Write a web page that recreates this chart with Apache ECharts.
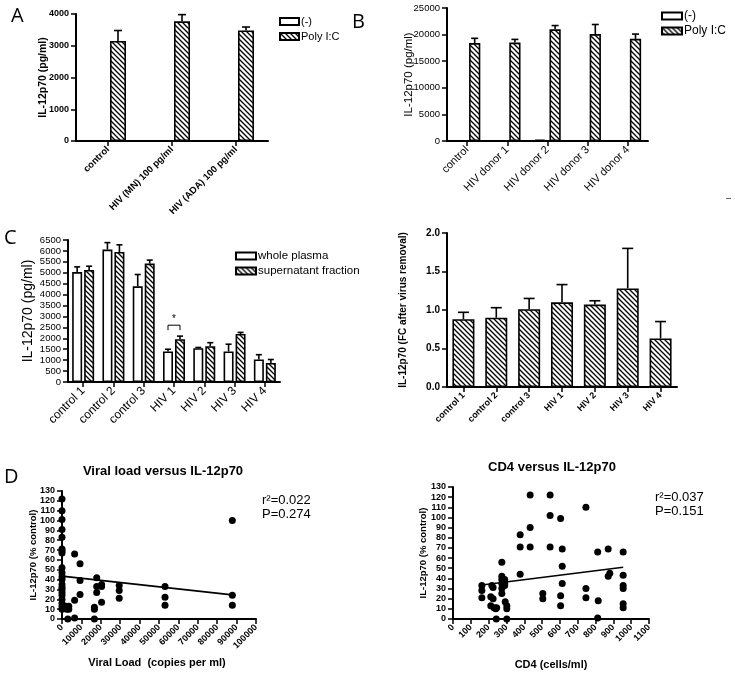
<!DOCTYPE html>
<html><head><meta charset="utf-8">
<script src="https://cdn.jsdelivr.net/npm/echarts@6/dist/echarts.min.js"></script>
<style>html,body{margin:0;padding:0;background:#fff}#c{width:735px;height:676px}</style>
</head><body><div id="c"></div>
<script>
// ---------- DATA ----------
// Panel A
const catsA = ['control', 'HIV (MN) 100 pg/ml', 'HIV (ADA) 100 pg/ml'];
const aNeg = [10, 10, 10];
const aPoly = [3150, 3770, 3480];
const aPolyTop = [3480, 3980, 3590];
// Panel B
const catsB = ['control', 'HIV donor 1', 'HIV donor 2', 'HIV donor 3', 'HIV donor 4'];
const bNeg = [30, 30, 300, 30, 100];
const bPoly = [18400, 18500, 21000, 20100, 19200];
const bPolyTop = [19300, 19100, 21700, 21900, 20100];
// Panel C
const catsC = ['control 1', 'control 2', 'control 3', 'HIV 1', 'HIV 2', 'HIV 3', 'HIV 4'];
const cWhole = [5030, 6060, 4380, 1400, 1550, 1400, 1030];
const cWholeTop = [5270, 6380, 4920, 1500, 1580, 1730, 1250];
const cSup = [5130, 5950, 5420, 1960, 1640, 2200, 870];
const cSupTop = [5300, 6280, 5580, 2100, 1800, 2270, 1030];
const cSignif = [[3, 2600]];
// Panel C right (fold change)
const fcVal = [0.88, 0.90, 1.01, 1.10, 1.07, 1.28, 0.63];
const fcTop = [0.97, 1.03, 1.15, 1.33, 1.12, 1.80, 0.85];
// Panel D left: viral load vs IL-12p70
const vlX = [0,0,0,0,0,0,0,0,0,0,0,0,0,0,0,0,0,0,0,0,0,
  2000,3500,2500,3500,3000, 6500,6500,6500, 9300,9300,9300,
  16700,16700,16700, 17900,17900,17900, 20400,20400,20400,
  29500,29500,29500, 53100,53100,53100, 87800,87800,87800];
const vlY = [122,110,101,91,83,71,69,67,52,47,43,40,35,32,30,27,24,20,16,13,10,
  13,13,10,10,0, 66,19,1, 56,39,25,
  12,10,0, 42,33,27, 35,33,17,
  34,29,21, 33,22,14, 100,24,14];
const vlFitX = [0, 87800];
const vlFitY = [43.5, 24.5];
// Panel D right: CD4 vs IL-12p70
const cdX = [162,162,162, 218,225,212,225, 212,230,240,245,243,
  274,274,274,274,274,274, 290,290,290,283, 293,302,302,302,
  377,377,377, 433,433,433, 504,504, 545,545,545,
  604,613,613,613,604,604, 746,746,746, 812,815,812, 871,880,871,
  955,955,955,955,955,955];
const cdY = [33,28,21, 33,31,22,20, 13,11,10,11,0,
  56,42,39,35,30,25, 39,35,33,37, 17,13,10,0,
  83,71,44, 122,90,71, 25,20, 122,102,71,
  99,69,52,35,23,13, 110,30,21, 66,18,1, 69,45,42,
  66,43,33,30,15,11];
const cdFitX = [162, 955];
const cdFitY = [33.5, 51];

// ---------- HELPERS ----------
const F = '"Liberation Sans", Arial, sans-serif';
function hatch(size, lw) {
  const c = document.createElement('canvas');
  c.width = c.height = size;
  const g = c.getContext('2d');
  g.fillStyle = '#fff'; g.fillRect(0, 0, size, size);
  g.strokeStyle = '#000'; g.lineWidth = lw;
  g.beginPath();
  g.moveTo(-1, -1); g.lineTo(size + 1, size + 1);
  g.moveTo(-1, size - 1); g.lineTo(1, size + 1);
  g.moveTo(size - 1, -1); g.lineTo(size + 1, 1);
  g.stroke();
  return c;
}
const hatchFill = { image: hatch(5, 1.3), repeat: 'repeat' };
const whiteStyle = { color: '#fff', borderColor: '#000', borderWidth: 1.6 };
const hatchStyle = { color: hatchFill, borderColor: '#000', borderWidth: 1.6 };

function catX(gi, cats, fs, bold) {
  return { type: 'category', gridIndex: gi, data: cats,
    axisLine: { show: true, lineStyle: { color: '#000', width: 2 } },
    axisTick: { show: true, alignWithLabel: true, length: 5, lineStyle: { color: '#000', width: 1.5 } },
    axisLabel: { interval: 0, rotate: 45, color: '#000', fontSize: fs, fontWeight: bold ? 'bold' : 'normal', fontFamily: F, margin: 7 },
    splitLine: { show: false } };
}
function valAxis(gi, min, max, step, fs, bold, rot, extra) {
  return Object.assign({ type: 'value', gridIndex: gi, min: min, max: max, interval: step,
    axisLine: { show: true, onZero: false, lineStyle: { color: '#000', width: 2 } },
    axisTick: { show: true, length: 5, lineStyle: { color: '#000', width: 1.5 } },
    axisLabel: { color: '#000', fontSize: fs, fontWeight: bold ? 'bold' : 'normal', fontFamily: F, margin: 7, rotate: rot || 0,
      formatter: v => String(v) },
    splitLine: { show: false } }, extra || {});
}
function yName(name, fs, bold, gap) {
  return { name: name, nameLocation: 'middle', nameRotate: 90, nameGap: gap, nameMoveOverlap: false,
    nameTextStyle: { fontSize: fs, fontWeight: bold ? 'bold' : 'normal', fontFamily: F, color: '#000' } };
}
function errSeries(gi, vals, tops, off, cap) {
  return { type: 'custom', xAxisIndex: gi, yAxisIndex: gi, silent: true, z: 3,
    data: vals.map((v, i) => [i, v, tops[i]]),
    renderItem: function (p, api) {
      const b = api.coord([api.value(0), api.value(1)]);
      const t = api.coord([api.value(0), api.value(2)]);
      const band = api.size([1, 0])[0];
      const x = b[0] + off * band;
      return { type: 'group', children: [
        { type: 'line', shape: { x1: x, y1: b[1], x2: x, y2: t[1] }, style: { stroke: '#000', lineWidth: 1.6 } },
        { type: 'line', shape: { x1: x - cap / 2, y1: t[1], x2: x + cap / 2, y2: t[1] }, style: { stroke: '#000', lineWidth: 1.6 } }
      ] };
    } };
}
function pairs(xs, ys) { return xs.map((x, i) => [x, ys[i]]); }

const wA = 0.25, gA = 0.25, offA = (wA + gA * wA) / 2;
const wB = 0.28, gB = 0.35, offB = (wB + gB * wB) / 2;
const wC = 0.33, gC = 0.2, offC = (wC + gC * wC) / 2;

const legText = fs => ({ fontSize: fs, fontFamily: F, color: '#000', padding: [0, 0, 0, -3] });

const chart = echarts.init(document.getElementById('c'), null, { renderer: 'canvas' });
chart.setOption({
  animation: false,
  backgroundColor: '#fff',
  textStyle: { fontFamily: F, color: '#000' },
  grid: [
    { left: 76, top: 14, width: 192, height: 127 },   // A
    { left: 447, top: 8, width: 201, height: 133 },   // B
    { left: 68, top: 240, width: 212, height: 142 },  // C
    { left: 447, top: 233, width: 230, height: 154 }, // C right
    { left: 62, top: 491, width: 194, height: 128 },  // D left
    { left: 453, top: 487, width: 196, height: 132 }  // D right
  ],
  xAxis: [
    catX(0, catsA, 9.5, true),
    catX(1, catsB, 11, false),
    catX(2, catsC, 12, false),
    catX(3, catsC, 9, true),
    valAxis(4, 0, 100000, 10000, 9, true, 45),
    valAxis(5, 0, 1100, 100, 9, true, 45)
  ],
  yAxis: [
    valAxis(0, 0, 4000, 1000, 9, true, 0, yName('IL-12p70 (pg/ml)', 10.5, true, 27)),
    valAxis(1, 0, 25000, 5000, 9.5, false, 0, yName('IL-12p70 (pg/ml)', 11.5, false, 32)),
    valAxis(2, 0, 6500, 500, 9.5, false, 0, yName('IL-12p70 (pg/ml)', 14, false, 33)),
    valAxis(3, 0, 2, 0.5, 10, true, 0, Object.assign(yName('IL-12p70 (FC after virus removal)', 10, true, 39),
      { axisLabel: { color: '#000', fontSize: 10, fontWeight: 'bold', fontFamily: F, margin: 7, formatter: v => v.toFixed(1) } })),
    valAxis(4, 0, 130, 10, 9, true, 0, yName('IL-12p70 (% control)', 9.5, true, 24)),
    valAxis(5, 0, 130, 10, 9, true, 0, yName('IL-12p70 (% control)', 9.5, true, 25))
  ],
  legend: [
    { data: ['(-)', 'Poly I:C'], orient: 'vertical', left: 279, top: 16, padding: 0, icon: 'rect', itemWidth: 19, itemHeight: 7, itemGap: 4,
      textStyle: legText(11), selectedMode: false },
    { data: ['(-)', 'Poly I:C'], orient: 'vertical', left: 661, top: 10, padding: 0, icon: 'rect', itemWidth: 20, itemHeight: 7, itemGap: 3,
      textStyle: legText(12), selectedMode: false },
    { data: ['whole plasma', 'supernatant fraction'], orient: 'vertical', left: 235, top: 250, padding: 0, icon: 'rect', itemWidth: 20, itemHeight: 7, itemGap: 3,
      textStyle: legText(11.5), selectedMode: false }
  ],
  series: [
    // A
    { type: 'bar', name: '(-)', xAxisIndex: 0, yAxisIndex: 0, data: aNeg, barWidth: wA * 100 + '%', barGap: gA * 100 + '%', itemStyle: whiteStyle },
    { type: 'bar', name: 'Poly I:C', xAxisIndex: 0, yAxisIndex: 0, data: aPoly, barWidth: wA * 100 + '%', barGap: gA * 100 + '%', itemStyle: hatchStyle },
    errSeries(0, aPoly, aPolyTop, offA, 8),
    // B
    { type: 'bar', name: '(-)', xAxisIndex: 1, yAxisIndex: 1, data: bNeg, barWidth: wB * 100 + '%', barGap: gB * 100 + '%', itemStyle: whiteStyle },
    { type: 'bar', name: 'Poly I:C', xAxisIndex: 1, yAxisIndex: 1, data: bPoly, barWidth: wB * 100 + '%', barGap: gB * 100 + '%', itemStyle: hatchStyle },
    errSeries(1, bPoly, bPolyTop, offB, 7),
    // C
    { type: 'bar', name: 'whole plasma', xAxisIndex: 2, yAxisIndex: 2, data: cWhole, barWidth: wC * 100 + '%', barGap: gC * 100 + '%', itemStyle: whiteStyle },
    { type: 'bar', name: 'supernatant fraction', xAxisIndex: 2, yAxisIndex: 2, data: cSup, barWidth: wC * 100 + '%', barGap: gC * 100 + '%', itemStyle: hatchStyle },
    errSeries(2, cWhole, cWholeTop, -offC, 6),
    errSeries(2, cSup, cSupTop, offC, 6),
    { type: 'custom', xAxisIndex: 2, yAxisIndex: 2, silent: true, data: cSignif,
      renderItem: function (p, api) {
        const c = api.coord([api.value(0), api.value(1)]);
        const band = api.size([1, 0])[0];
        const xl = c[0] - offC * band, xr = c[0] + offC * band, y = c[1];
        return { type: 'group', children: [
          { type: 'polyline', shape: { points: [[xl, y + 5], [xl, y], [xr, y], [xr, y + 5]] }, style: { stroke: '#000', lineWidth: 1, fill: null } },
          { type: 'text', style: { text: '*', x: (xl + xr) / 2, y: y - 1, align: 'center', verticalAlign: 'bottom', fontSize: 10, fontFamily: F, fill: '#000' } }
        ] };
      } },
    // C right
    { type: 'bar', name: 'FC', xAxisIndex: 3, yAxisIndex: 3, data: fcVal, barWidth: '67%', itemStyle: hatchStyle },
    errSeries(3, fcVal, fcTop, 0, 11),
    // D left
    { type: 'scatter', xAxisIndex: 4, yAxisIndex: 4, data: pairs(vlX, vlY), symbolSize: 7, itemStyle: { color: '#000', opacity: 1 } },
    { type: 'line', xAxisIndex: 4, yAxisIndex: 4, data: pairs(vlFitX, vlFitY), showSymbol: false, lineStyle: { color: '#000', width: 1.6 } },
    // D right
    { type: 'scatter', xAxisIndex: 5, yAxisIndex: 5, data: pairs(cdX, cdY), symbolSize: 7, itemStyle: { color: '#000', opacity: 1 } },
    { type: 'line', xAxisIndex: 5, yAxisIndex: 5, data: pairs(cdFitX, cdFitY), showSymbol: false, lineStyle: { color: '#000', width: 1.6 } }
  ],
  graphic: [
    { type: 'text', left: 11, top: 6, style: { text: 'A', fontSize: 20, fontFamily: '"Open Sans", sans-serif', fill: '#000' } },
    { type: 'text', left: 352, top: 12, style: { text: 'B', fontSize: 20, fontFamily: '"Open Sans", sans-serif', fill: '#000' } },
    { type: 'text', left: 4, top: 228, style: { text: 'C', fontSize: 20, fontFamily: '"Open Sans", sans-serif', fill: '#000' } },
    { type: 'text', left: 4, top: 467, style: { text: 'D', fontSize: 20, fontFamily: '"Open Sans", sans-serif', fill: '#000' } },
    { type: 'text', left: 726, top: 194, style: { text: '–', fontSize: 9, fontFamily: F, fill: '#000' } },
    { type: 'text', x: 163, y: 471, style: { text: 'Viral load versus IL-12p70', align: 'center', verticalAlign: 'middle', fontSize: 13, fontWeight: 'bold', fontFamily: F, fill: '#000' } },
    { type: 'text', x: 552, y: 467, style: { text: 'CD4 versus IL-12p70', align: 'center', verticalAlign: 'middle', fontSize: 13, fontWeight: 'bold', fontFamily: F, fill: '#000' } },
    { type: 'text', x: 157, y: 663, style: { text: 'Viral Load  (copies per ml)', align: 'center', verticalAlign: 'middle', fontSize: 11, fontWeight: 'bold', fontFamily: F, fill: '#000' } },
    { type: 'text', x: 551, y: 665, style: { text: 'CD4 (cells/ml)', align: 'center', verticalAlign: 'middle', fontSize: 11, fontWeight: 'bold', fontFamily: F, fill: '#000' } },
    { type: 'text', x: 262, y: 500, style: { text: 'r²=0.022', verticalAlign: 'middle', fontSize: 13, fontFamily: F, fill: '#000' } },
    { type: 'text', x: 262, y: 514, style: { text: 'P=0.274', verticalAlign: 'middle', fontSize: 13, fontFamily: F, fill: '#000' } },
    { type: 'text', x: 655, y: 497, style: { text: 'r²=0.037', verticalAlign: 'middle', fontSize: 13, fontFamily: F, fill: '#000' } },
    { type: 'text', x: 655, y: 511, style: { text: 'P=0.151', verticalAlign: 'middle', fontSize: 13, fontFamily: F, fill: '#000' } }
  ]
});
</script>
</body></html>
